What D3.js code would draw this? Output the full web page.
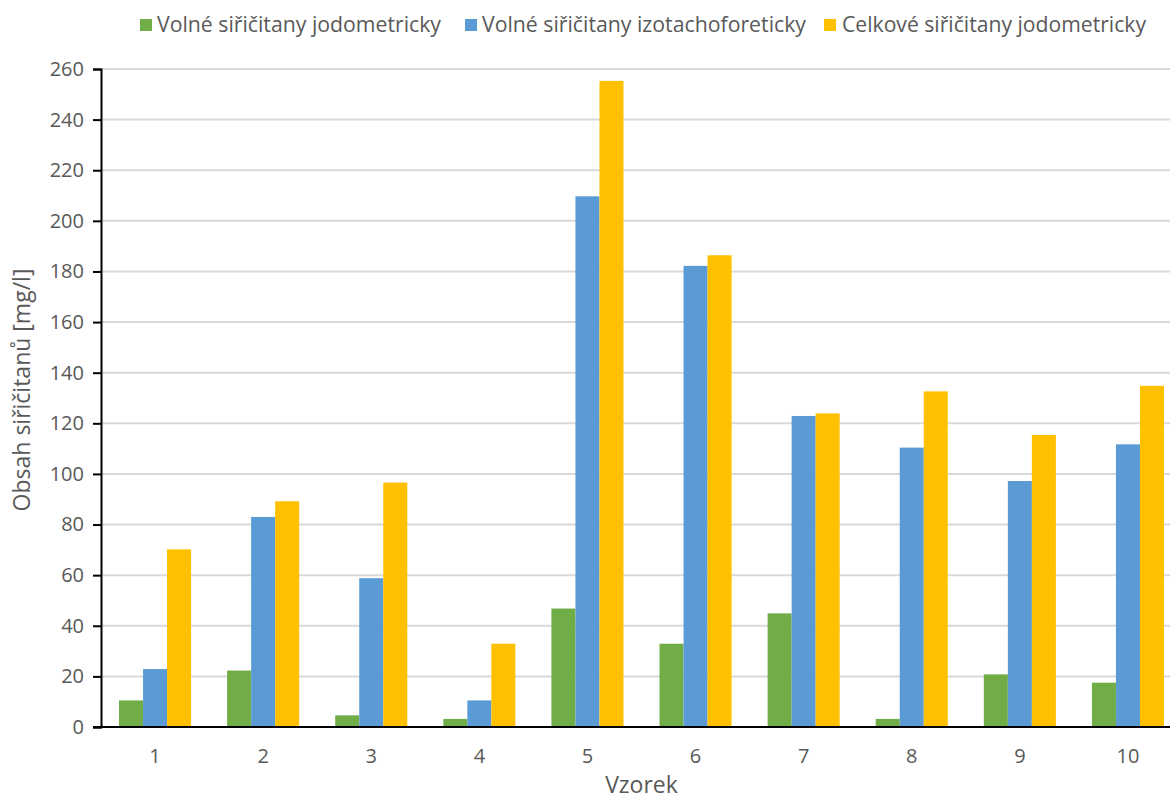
<!DOCTYPE html>
<html>
<head>
<meta charset="utf-8">
<script src="https://cdn.jsdelivr.net/npm/d3@7"></script>
<style>
  html, body { margin: 0; padding: 0; background: #fff; }
  svg { display: block; }
  text { font-family: "Open Sans", "DejaVu Sans", sans-serif; fill: #595959; }
</style>
</head>
<body>
<svg id="chart" width="1170" height="799"></svg>
<script>
// Sample numbers
const categories = ["1", "2", "3", "4", "5", "6", "7", "8", "9", "10"];

// Series names (legend order)
const seriesNames = [
  "Volné siřičitany jodometricky",
  "Volné siřičitany izotachoforeticky",
  "Celkové siřičitany jodometricky"
];

// Sulphite content, mg/l
const volneJodometricky    = [10.5, 22.3, 4.6, 3.2, 46.8, 32.9, 44.9, 3.2, 20.8, 17.5];
const volneIzotachoforeticky = [22.9, 83.0, 58.8, 10.5, 209.7, 182.2, 122.9, 110.4, 97.2, 111.7];
const celkoveJodometricky  = [70.2, 89.2, 96.6, 32.9, 255.3, 186.4, 123.9, 132.6, 115.4, 134.8];

const yTicks = [0, 20, 40, 60, 80, 100, 120, 140, 160, 180, 200, 220, 240, 260];

const seriesColors = ["#70AD47", "#5B9BD5", "#FFC000"];
const seriesValues = [volneJodometricky, volneIzotachoforeticky, celkoveJodometricky];

const svg = d3.select("#chart");

const plot = { left: 101, right: 1182, top: 69, bottom: 727 };

const x0 = d3.scaleBand().domain(categories).range([plot.left, plot.right]).padding(0);
const bw = x0.bandwidth();
const x1 = d3.scaleBand().domain(d3.range(seriesNames.length)).range([bw / 6, bw * 5 / 6]).padding(0);
const y = d3.scaleLinear().domain([0, 260]).range([plot.bottom, plot.top]);

// Horizontal gridlines
svg.append("g")
  .selectAll("line")
  .data(yTicks.filter(d => d > 0))
  .join("line")
  .attr("x1", plot.left)
  .attr("x2", plot.right)
  .attr("y1", d => y(d))
  .attr("y2", d => y(d))
  .attr("stroke", "#d9d9d9")
  .attr("stroke-width", 2);

// Bars
const groups = svg.append("g")
  .selectAll("g")
  .data(categories)
  .join("g")
  .attr("transform", d => `translate(${x0(d)},0)`);

groups.selectAll("rect")
  .data((c, i) => seriesValues.map((vals, s) => ({ s, v: vals[i] })))
  .join("rect")
  .attr("x", d => x1(d.s))
  .attr("width", x1.bandwidth())
  .attr("y", d => y(d.v))
  .attr("height", d => y(0) - y(d.v))
  .attr("fill", d => seriesColors[d.s]);

// Y axis
const yAxis = d3.axisLeft(y).tickValues(yTicks).tickSize(8).tickPadding(9);
const gy = svg.append("g").attr("transform", `translate(${plot.left},0)`).call(yAxis);
gy.select(".domain").attr("stroke", "#000").attr("stroke-width", 2);
gy.selectAll(".tick line").attr("stroke", "#000").attr("stroke-width", 2);
gy.selectAll(".tick text")
  .attr("fill", "#595959")
  .style("font-size", "20px")
  .style("font-family", "'Open Sans', sans-serif");

// X axis
const xAxis = d3.axisBottom(x0).tickSize(0).tickPadding(22);
const gx = svg.append("g").attr("transform", `translate(0,${plot.bottom})`).call(xAxis);
gx.select(".domain").attr("stroke", "#000").attr("stroke-width", 2)
  .attr("d", `M${plot.left - 8},0H${plot.right}`);
gx.selectAll(".tick text")
  .attr("fill", "#595959")
  .style("font-size", "20px")
  .style("font-family", "'Open Sans', sans-serif");

// Axis titles
svg.append("text")
  .attr("transform", `translate(30,${(plot.top + plot.bottom) / 2 - 8}) rotate(-90)`)
  .attr("text-anchor", "middle")
  .style("font-size", "23px")
  .text("Obsah siřičitanů [mg/l]");

svg.append("text")
  .attr("x", (plot.left + plot.right) / 2)
  .attr("y", 793)
  .attr("text-anchor", "middle")
  .style("font-size", "23px")
  .text("Vzorek");

// Legend
const legendItems = [
  { x: 140, tx: 157, w: 284 },
  { x: 465, tx: 482, w: 324 },
  { x: 824, tx: 842, w: 304 }
];
const legend = svg.append("g");
legendItems.forEach((it, i) => {
  legend.append("rect")
    .attr("x", it.x).attr("y", 19)
    .attr("width", 12).attr("height", 12)
    .attr("fill", seriesColors[i]);
  legend.append("text")
    .attr("x", it.tx).attr("y", 32)
    .attr("textLength", it.w)
    .attr("lengthAdjust", "spacingAndGlyphs")
    .style("font-size", "21px")
    .text(seriesNames[i]);
});
</script>
</body>
</html>
